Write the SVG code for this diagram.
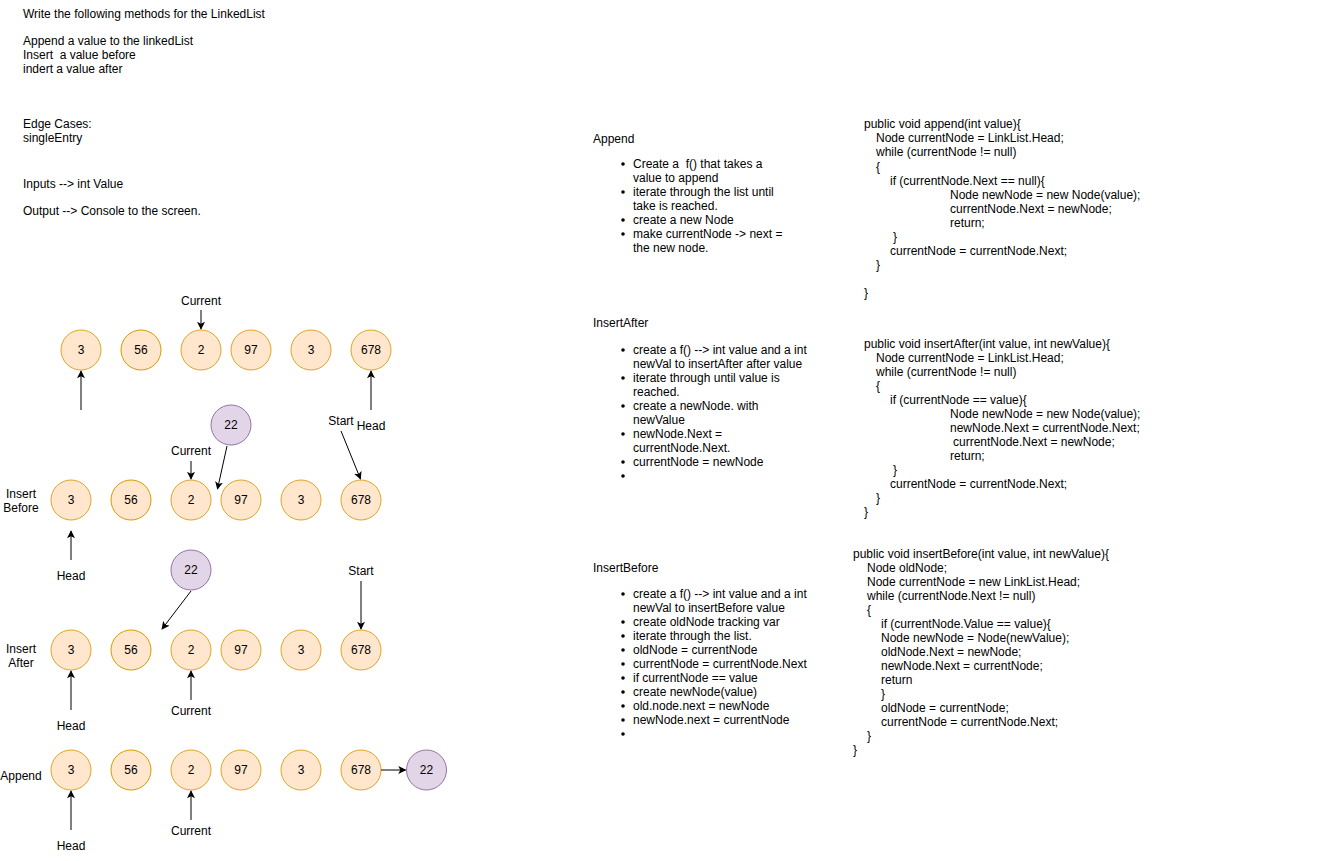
<svg xmlns="http://www.w3.org/2000/svg" width="1322" height="861" viewBox="0 0 1322 861">
<style>
text{font-family:"Liberation Sans",Arial,Helvetica,sans-serif;font-size:12px;fill:#000;white-space:pre}
.c{text-anchor:middle}
.o{fill:#ffe6cc;stroke:#e0a526;stroke-width:1}
.o2{fill:#ffe6cc;stroke:#d79b00;stroke-width:1}
.p{fill:#e1d5e7;stroke:#9673a6;stroke-width:1}
.e{stroke:#000;stroke-width:1;fill:none;marker-end:url(#ah)}
</style>
<defs>
<marker id="ah" viewBox="0 0 10 10" refX="9" refY="5" markerWidth="8" markerHeight="8" markerUnits="userSpaceOnUse" orient="auto">
<path d="M0,0 L10,5 L0,10 L2.5,5 Z" fill="#000"/>
</marker>
</defs>
<rect width="1322" height="861" fill="#fff"/>

<g id="intro">
<text x="23" y="18">Write the following methods for the LinkedList</text>
<text x="23" y="45">Append a value to the linkedList</text>
<text x="23" y="59" xml:space="preserve">Insert  a value before</text>
<text x="23" y="73">indert a value after</text>
<text x="23" y="128">Edge Cases:</text>
<text x="23" y="142">singleEntry</text>
<text x="23" y="188">Inputs --&gt; int Value</text>
<text x="23" y="215">Output --&gt; Console to the screen.</text>
</g>

<g id="row1">
<circle class="o" cx="81" cy="350" r="20"/><text class="c" x="81" y="354">3</text>
<circle class="o2" cx="141" cy="350" r="20"/><text class="c" x="141" y="354">56</text>
<circle class="o" cx="201" cy="350" r="20"/><text class="c" x="201" y="354">2</text>
<circle class="o" cx="251" cy="350" r="20"/><text class="c" x="251" y="354">97</text>
<circle class="o" cx="311" cy="350" r="20"/><text class="c" x="311" y="354">3</text>
<circle class="o" cx="371" cy="350" r="20"/><text class="c" x="371" y="354">678</text>
<text class="c" x="201" y="305">Current</text>
<text class="c" x="341" y="425">Start</text>
<text class="c" x="371" y="430">Head</text>
</g>

<g id="row2">
<text class="c" x="21" y="498">Insert</text>
<text class="c" x="21" y="512">Before</text>
<circle class="o" cx="71" cy="500" r="20"/><text class="c" x="71" y="504">3</text>
<circle class="o2" cx="131" cy="500" r="20"/><text class="c" x="131" y="504">56</text>
<circle class="o" cx="191" cy="500" r="20"/><text class="c" x="191" y="504">2</text>
<circle class="o" cx="241" cy="500" r="20"/><text class="c" x="241" y="504">97</text>
<circle class="o" cx="301" cy="500" r="20"/><text class="c" x="301" y="504">3</text>
<circle class="o" cx="361" cy="500" r="20"/><text class="c" x="361" y="504">678</text>
<circle class="p" cx="231" cy="425" r="20"/><text class="c" x="231" y="429">22</text>
<text class="c" x="191" y="455">Current</text>
<text class="c" x="71" y="580">Head</text>
</g>

<g id="row3">
<text class="c" x="21" y="653">Insert</text>
<text class="c" x="21" y="667">After</text>
<circle class="o" cx="71" cy="650" r="20"/><text class="c" x="71" y="654">3</text>
<circle class="o2" cx="131" cy="650" r="20"/><text class="c" x="131" y="654">56</text>
<circle class="o" cx="191" cy="650" r="20"/><text class="c" x="191" y="654">2</text>
<circle class="o" cx="241" cy="650" r="20"/><text class="c" x="241" y="654">97</text>
<circle class="o" cx="301" cy="650" r="20"/><text class="c" x="301" y="654">3</text>
<circle class="o" cx="361" cy="650" r="20"/><text class="c" x="361" y="654">678</text>
<circle class="p" cx="191" cy="570" r="20"/><text class="c" x="191" y="574">22</text>
<text class="c" x="361" y="575">Start</text>
<text class="c" x="71" y="730">Head</text>
<text class="c" x="191" y="715">Current</text>
</g>

<g id="row4">
<text class="c" x="21" y="780">Append</text>
<circle class="o" cx="71" cy="770" r="20"/><text class="c" x="71" y="774">3</text>
<circle class="o2" cx="131" cy="770" r="20"/><text class="c" x="131" y="774">56</text>
<circle class="o" cx="191" cy="770" r="20"/><text class="c" x="191" y="774">2</text>
<circle class="o" cx="241" cy="770" r="20"/><text class="c" x="241" y="774">97</text>
<circle class="o" cx="301" cy="770" r="20"/><text class="c" x="301" y="774">3</text>
<circle class="o" cx="361" cy="770" r="20"/><text class="c" x="361" y="774">678</text>
<circle class="p" cx="426.5" cy="770" r="20"/><text class="c" x="426.5" y="774">22</text>
<text class="c" x="71" y="850">Head</text>
<text class="c" x="191" y="835">Current</text>
</g>

<g id="connectors">
<line class="e" x1="201" y1="310" x2="201" y2="329"/>
<line class="e" x1="81" y1="410" x2="81" y2="371"/>
<line class="e" x1="371" y1="410" x2="371" y2="371"/>
<line class="e" x1="191" y1="461" x2="191" y2="479"/>
<line class="e" x1="227" y1="446" x2="217.5" y2="489"/>
<line class="e" x1="341" y1="431" x2="360.5" y2="479"/>
<line class="e" x1="71" y1="560" x2="71" y2="531"/>
<line class="e" x1="191" y1="591" x2="162" y2="629"/>
<line class="e" x1="361" y1="581" x2="361" y2="629"/>
<line class="e" x1="71" y1="710" x2="71" y2="671"/>
<line class="e" x1="191" y1="700" x2="191" y2="671"/>
<line class="e" x1="381" y1="770" x2="405.5" y2="770"/>
<line class="e" x1="71" y1="830" x2="71" y2="791"/>
<line class="e" x1="191" y1="820" x2="191" y2="791"/>
</g>

<g id="append-notes">
<text x="593" y="143">Append</text>
<circle cx="623" cy="164" r="1.8"/><text x="633" y="168" xml:space="preserve">Create a  f() that takes a</text>
<text x="633" y="182">value to append</text>
<circle cx="623" cy="192" r="1.8"/><text x="633" y="196">iterate through the list until</text>
<text x="633" y="210">take is reached.</text>
<circle cx="623" cy="220" r="1.8"/><text x="633" y="224">create a new Node</text>
<circle cx="623" cy="234" r="1.8"/><text x="633" y="238">make currentNode -&gt; next =</text>
<text x="633" y="252">the new node.</text>
</g>

<g id="insertafter-notes">
<text x="593" y="327">InsertAfter</text>
<circle cx="623" cy="350" r="1.8"/><text x="633" y="354">create a f() --&gt; int value and a int</text>
<text x="633" y="368">newVal to insertAfter after value</text>
<circle cx="623" cy="378" r="1.8"/><text x="633" y="382">iterate through until value is</text>
<text x="633" y="396">reached.</text>
<circle cx="623" cy="406" r="1.8"/><text x="633" y="410">create a newNode. with</text>
<text x="633" y="424">newValue</text>
<circle cx="623" cy="434" r="1.8"/><text x="633" y="438">newNode.Next =</text>
<text x="633" y="452">currentNode.Next.</text>
<circle cx="623" cy="462" r="1.8"/><text x="633" y="466">currentNode = newNode</text>
<circle cx="623" cy="476" r="1.8"/>
</g>

<g id="insertbefore-notes">
<text x="593" y="572">InsertBefore</text>
<circle cx="623" cy="594" r="1.8"/><text x="633" y="598">create a f() --&gt; int value and a int</text>
<text x="633" y="612">newVal to insertBefore value</text>
<circle cx="623" cy="622" r="1.8"/><text x="633" y="626">create oldNode tracking var</text>
<circle cx="623" cy="636" r="1.8"/><text x="633" y="640">iterate through the list.</text>
<circle cx="623" cy="650" r="1.8"/><text x="633" y="654">oldNode = currentNode</text>
<circle cx="623" cy="664" r="1.8"/><text x="633" y="668">currentNode = currentNode.Next</text>
<circle cx="623" cy="678" r="1.8"/><text x="633" y="682">if currentNode == value</text>
<circle cx="623" cy="692" r="1.8"/><text x="633" y="696">create newNode(value)</text>
<circle cx="623" cy="706" r="1.8"/><text x="633" y="710">old.node.next = newNode</text>
<circle cx="623" cy="720" r="1.8"/><text x="633" y="724">newNode.next = currentNode</text>
<circle cx="623" cy="734" r="1.8"/>
</g>

<g id="append-code">
<text x="864" y="128">public void append(int value){</text>
<text x="876" y="142">Node currentNode = LinkList.Head;</text>
<text x="876" y="156">while (currentNode != null)</text>
<text x="876" y="171">{</text>
<text x="890" y="185">if (currentNode.Next == null){</text>
<text x="950" y="199">Node newNode = new Node(value);</text>
<text x="950" y="213">currentNode.Next = newNode;</text>
<text x="950" y="227">return;</text>
<text x="893" y="241">}</text>
<text x="890" y="255">currentNode = currentNode.Next;</text>
<text x="876" y="269">}</text>
<text x="864" y="297">}</text>
</g>

<g id="insertafter-code">
<text x="864" y="348">public void insertAfter(int value, int newValue){</text>
<text x="876" y="362">Node currentNode = LinkList.Head;</text>
<text x="876" y="376">while (currentNode != null)</text>
<text x="876" y="390">{</text>
<text x="890" y="404">if (currentNode == value){</text>
<text x="950" y="418">Node newNode = new Node(value);</text>
<text x="950" y="432">newNode.Next = currentNode.Next;</text>
<text x="953" y="446">currentNode.Next = newNode;</text>
<text x="950" y="460">return;</text>
<text x="893" y="474">}</text>
<text x="890" y="488">currentNode = currentNode.Next;</text>
<text x="876" y="502">}</text>
<text x="864" y="516">}</text>
</g>

<g id="insertbefore-code">
<text x="853" y="558">public void insertBefore(int value, int newValue){</text>
<text x="867" y="572">Node oldNode;</text>
<text x="867" y="586">Node currentNode = new LinkList.Head;</text>
<text x="867" y="600">while (currentNode.Next != null)</text>
<text x="867" y="614">{</text>
<text x="881" y="628">if (currentNode.Value == value){</text>
<text x="881" y="642">Node newNode = Node(newValue);</text>
<text x="881" y="656">oldNode.Next = newNode;</text>
<text x="881" y="670">newNode.Next = currentNode;</text>
<text x="881" y="684">return</text>
<text x="881" y="698">}</text>
<text x="881" y="712">oldNode = currentNode;</text>
<text x="881" y="726">currentNode = currentNode.Next;</text>
<text x="867" y="740">}</text>
<text x="853" y="754">}</text>
</g>
</svg>
